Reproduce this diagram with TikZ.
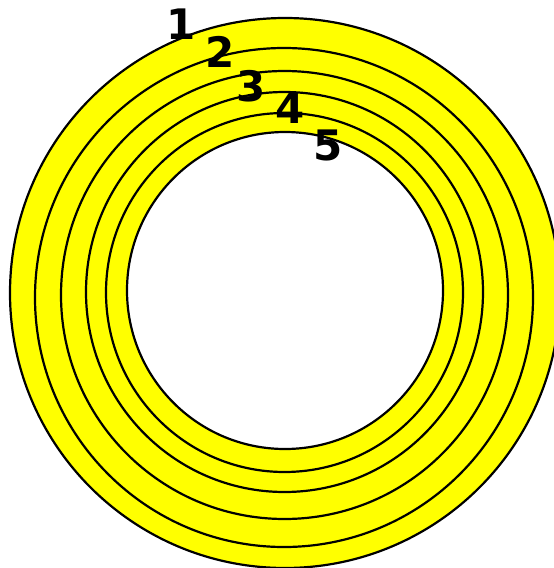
\documentclass[tikz,border=0pt]{standalone}
\usepackage{fontspec}
\newfontfamily\labfont{DejaVu Sans}
\definecolor{ringyellow}{RGB}{255,255,0}
\begin{document}
\begin{tikzpicture}[x=1pt,y=-1pt,
  ring/.style={draw=black,line width=2.2pt,fill=ringyellow},
  hole/.style={draw=black,line width=2.2pt,fill=white},
  lab/.style={font=\labfont\bfseries\fontsize{42}{42}\selectfont,inner sep=0pt,text=black}]
\useasboundingbox (0,0) rectangle (554,568);
\begin{scope}
\clip (0,0) rectangle (554,568);
\path[ring] (285,293) circle[x radius=275,y radius=275];
\path[ring] (284,297.5) circle[x radius=249,y radius=249.5];
\path[ring] (284.5,295) circle[x radius=223.5,y radius=224];
\path[ring] (284.5,292) circle[x radius=198.5,y radius=200];
\path[ring] (284.5,292.5) circle[x radius=178.5,y radius=179.5];
\path[hole] (285,290.5) circle[x radius=158,y radius=158.5];
\end{scope}
\node[lab] (n1) at (181,24) {1};
\node[lab] (n2) at (220,52) {2};
\node[lab] (n3) at (251,86) {3};
\node[lab] (n4) at (290,108) {4};
\node[lab] (n5) at (328,145) {5};
\end{tikzpicture}
\end{document}
